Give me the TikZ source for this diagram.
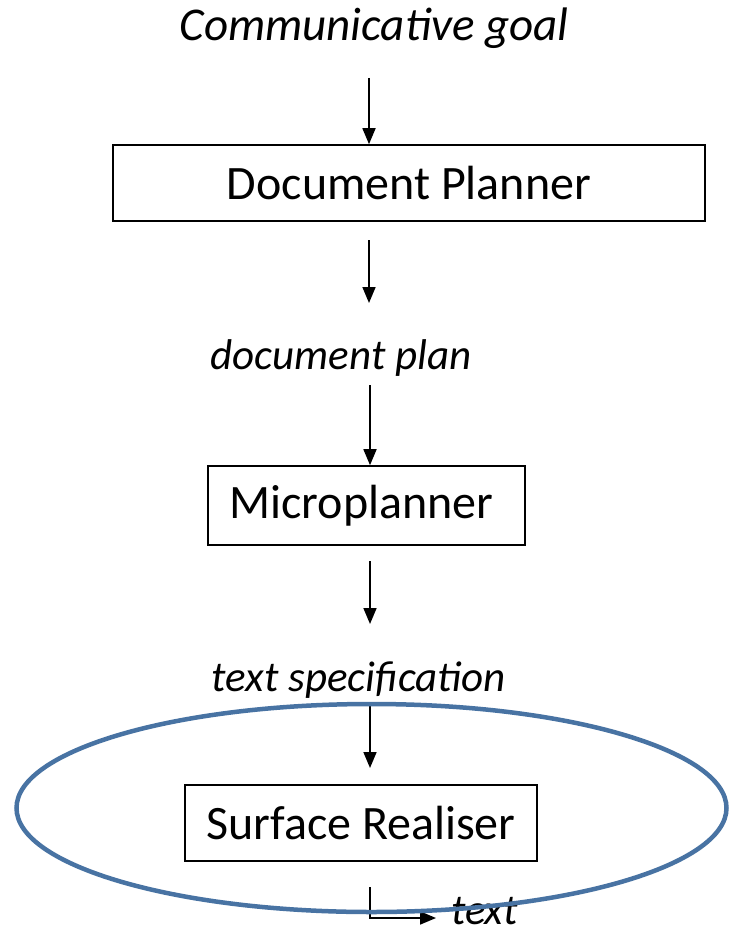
\documentclass[tikz,border=0pt]{standalone}
\usepackage{fontspec}
\setmainfont{Carlito}
\usetikzlibrary{arrows.meta}
\definecolor{ringblue}{RGB}{72,115,163}
\begin{document}
\begin{tikzpicture}[x=1pt,y=-1pt,
  stagebox/.style={draw=black,line width=1.6pt,inner sep=0pt,font=\fontsize{48}{52}\selectfont},
  flowlabel/.style={inner sep=0pt,font=\fontsize{43}{47}\selectfont\itshape},
  arr/.style={draw=black,line width=1.7pt,-{Triangle[length=16pt,width=13pt]}}]
\useasboundingbox[fill=white] (0,0) rectangle (728,936);

% stages of the pipeline
\node[stagebox,minimum width=592pt,minimum height=76pt] (dp) at (409,183) {Document Planner};
\node[stagebox,minimum width=317pt,minimum height=79pt] (mp) at (366.5,505.5) {Microplanner\kern10pt};
\node[stagebox,minimum width=352pt,minimum height=76pt] (sr) at (361,823) {Surface Realiser};

% data passed between stages
\node[flowlabel,font=\fontsize{47}{51}\selectfont\itshape] (goal) at (374,28) {Communicative goal};
\node[flowlabel] (plan) at (341,358) {document plan};
\node[flowlabel] (spec) at (359,680) {text specification};
\node[flowlabel,anchor=west] (out) at (451,911) {text};

% arrow end points
\coordinate (a1) at (369,78);
\coordinate (a2s) at (369,240);
\coordinate (a2e) at (369,303);
\coordinate (a3) at (370,385);
\coordinate (a4s) at (370,561);
\coordinate (a4e) at (370,624);
\coordinate (a5) at (370,705);
\coordinate (a6) at (370,887);
\coordinate (a6e) at (436,918);

\draw[arr] (a1) -- (a1 |- dp.north);
\draw[arr] (a2s) -- (a2e);
\draw[arr] (a3) -- (a3 |- mp.north);
\draw[arr] (a4s) -- (a4e);
\draw[arr] (a5) -- (370,768);
\draw[arr] (a6) |- (a6e);

% realiser highlight
\draw[ringblue,line width=4.5pt] (371.5,808) ellipse [x radius=355pt,y radius=104pt];
\end{tikzpicture}
\end{document}
